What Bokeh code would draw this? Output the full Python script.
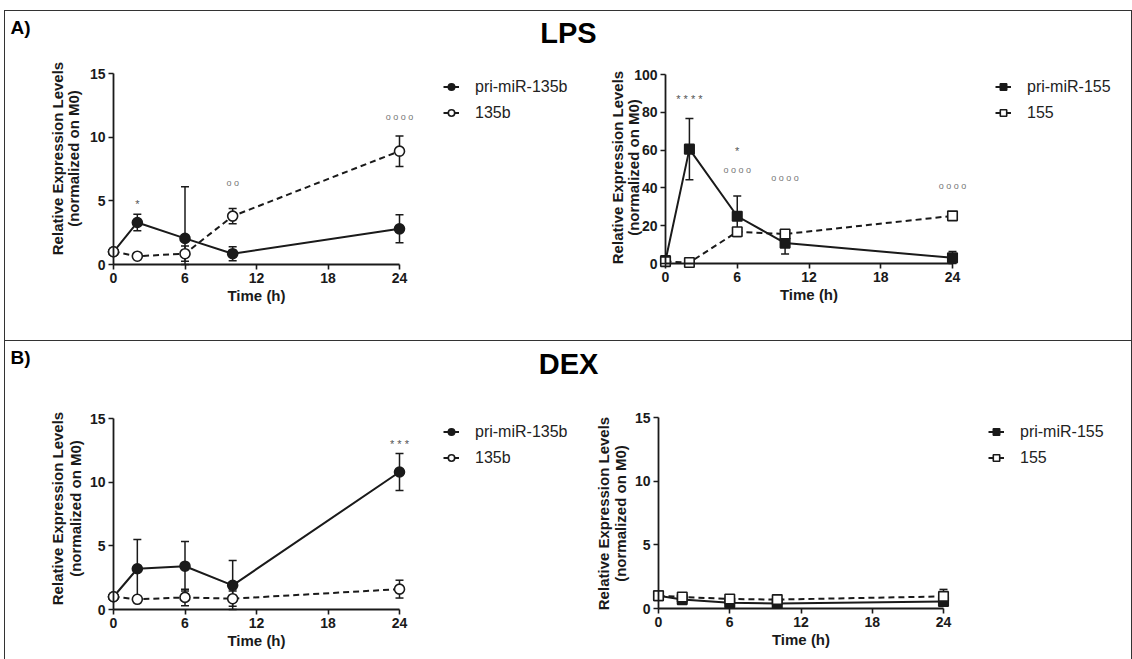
import numpy as np
from bokeh.plotting import figure
from bokeh.models import (ColumnDataSource, Whisker, TeeHead, Legend, LegendItem,
                          Range1d, Label, Spacer, FixedTicker)
from bokeh.layouts import column, row
from bokeh.embed import file_html
from bokeh.resources import INLINE
from bokeh.core.properties import value

# ---------------- data ----------------
time_h = [0, 2, 6, 10, 24]
x_ticks = [0, 6, 12, 18, 24]
y_ticks_15 = [0, 5, 10, 15]
y_ticks_100 = [0, 20, 40, 60, 80, 100]

# LPS
lps_pri135b = [1.0, 3.3, 2.05, 0.85, 2.8]
lps_pri135b_sd = [0.1, 0.65, 4.05, 0.55, 1.1]
lps_135b = [1.0, 0.65, 0.85, 3.8, 8.9]
lps_135b_sd = [0.05, 0.1, 0.6, 0.6, 1.2]
lps_pri155 = [1.5, 60.5, 25.0, 10.8, 3.0]
lps_pri155_sd = [1.0, 16.2, 10.7, 5.8, 3.3]
lps_155 = [1.0, 0.5, 16.8, 15.6, 25.2]
lps_155_sd = [0.3, 0.5, 1.5, 1.5, 1.2]

# DEX
dex_pri135b = [1.0, 3.2, 3.4, 1.9, 10.8]
dex_pri135b_sd = [0.05, 2.3, 1.95, 1.95, 1.45]
dex_135b = [1.0, 0.8, 0.95, 0.85, 1.6]
dex_135b_sd = [0.05, 0.15, 0.65, 0.6, 0.7]
dex_pri155 = [1.0, 0.7, 0.45, 0.4, 0.55]
dex_pri155_sd = [0.1, 0.3, 0.2, 0.2, 0.3]
dex_155 = [1.0, 0.9, 0.75, 0.7, 0.95]
dex_155_sd = [0.1, 0.2, 0.2, 0.15, 0.55]

# significance marks
lps135_ann_x = [2, 10, 24]
lps135_ann_y = [5.0, 6.4, 11.6]
lps135_ann_t = ["*", "o o", "o o o o"]
lps155_ann_x = [2, 6, 6, 10, 24]
lps155_ann_y = [88.5, 61.0, 49.7, 45.5, 41.0]
lps155_ann_t = ["* * * *", "*", "o o o o", "o o o o", "o o o o"]
dex135_ann_x = [24]
dex135_ann_y = [13.2]
dex135_ann_t = ["* * *"]

y_label_1 = "Relative Expression Levels"
y_label_2 = "(normalized on M0)"
x_label = "Time (h)"

FONT = "Liberation Sans"
INK = "#1a1a1a"


def panel(fw, fh, ax_x0, ax_x24, ax_y0, ax_ytop, ymax, yticks, series, marker,
          legend_off, ann, ylab):
    # frame covers the whole canvas; axes are pinned at x=0 / y=0
    upx = 24.0 / (ax_x24 - ax_x0)
    upy = ymax / float(ax_y0 - ax_ytop)
    p = figure(width=fw, height=fh,
               x_range=Range1d(-ax_x0 * upx, 24 + (fw - ax_x24) * upx),
               y_range=Range1d(-(fh - ax_y0) * upy, ymax + ax_ytop * upy),
               output_backend="svg", toolbar_location=None, min_border=0)
    p.grid.visible = False
    p.outline_line_color = None
    p.background_fill_color = "white"
    p.border_fill_color = "white"

    p.xaxis.fixed_location = 0
    p.yaxis.fixed_location = 0
    p.xaxis.bounds = (0, 24)
    p.yaxis.bounds = (0, ymax)
    p.xaxis.ticker = FixedTicker(ticks=x_ticks)
    p.yaxis.ticker = FixedTicker(ticks=yticks)
    for ax in (p.xaxis[0], p.yaxis[0]):
        ax.axis_line_width = 1.8
        ax.axis_line_color = INK
        ax.major_tick_line_width = 1.6
        ax.major_tick_line_color = INK
        ax.major_tick_out = 5
        ax.major_tick_in = 0
        ax.minor_tick_line_color = None
        ax.major_label_text_font = FONT
        ax.major_label_text_font_style = "bold"
        ax.major_label_text_font_size = "14px"
        ax.major_label_text_color = INK
        ax.axis_label_text_font = FONT
        ax.axis_label_text_font_style = "bold"
        ax.axis_label_text_color = INK
    p.xaxis.axis_label = x_label
    p.xaxis.axis_label_text_font_size = "15px"
    p.xaxis.major_label_standoff = 3
    p.xaxis.axis_label_standoff = 1
    p.yaxis.major_label_standoff = 3

    # two-line rotated y label
    l1x, l2x, cy = ylab
    yc = (ax_y0 - cy) * upy
    for txt, px in ((y_label_1, l1x), (y_label_2, l2x)):
        p.add_layout(Label(x=(px - ax_x0) * upx, y=yc, text=txt, angle=np.pi / 2,
                           text_font=FONT, text_font_style="bold", text_font_size="15px",
                           text_align="center", text_baseline="middle", text_color=INK))

    items = []
    for (label, mean, sd, filled, dash) in series:
        mean = np.array(mean, dtype=float)
        sd = np.array(sd, dtype=float)
        src = ColumnDataSource(dict(x=time_h, y=mean,
                                    upper=mean + sd,
                                    lower=np.maximum(mean - sd, 0.0)))
        wh = Whisker(base="x", upper="upper", lower="lower", source=src,
                     line_color=INK, line_width=1.5,
                     upper_head=TeeHead(size=8, line_color=INK, line_width=1.5),
                     lower_head=TeeHead(size=8, line_color=INK, line_width=1.5))
        p.add_layout(wh)
        lr = p.line("x", "y", source=src, line_color=INK, line_width=2,
                    line_dash=dash)
        sr = p.scatter("x", "y", source=src, marker=marker,
                       size=10 if marker == "circle" else 9.5,
                       fill_color=INK if filled else "white",
                       line_color=INK, line_width=1.6)
        items.append(LegendItem(label=label, renderers=[lr, sr]))

    leg = Legend(items=items, location=legend_off, padding=0, margin=0,
                 spacing=3, glyph_width=16, glyph_height=23, label_height=23,
                 label_standoff=16, border_line_color=None,
                 background_fill_alpha=0,
                 label_text_font=FONT, label_text_font_size="16px",
                 label_text_color="#222222")
    p.add_layout(leg)

    ax_, ay_, at_ = ann
    if ax_:
        stars = [i for i, t in enumerate(at_) if "*" in t]
        circs = [i for i, t in enumerate(at_) if "*" not in t]
        if stars:
            p.text(x=[ax_[i] for i in stars], y=[ay_[i] for i in stars],
                   text=[at_[i] for i in stars], text_align="center",
                   text_baseline="middle", y_offset=3,
                   text_font=value(FONT), text_font_size="11px", text_color="#555555")
        if circs:
            p.text(x=[ax_[i] for i in circs], y=[ay_[i] for i in circs],
                   text=[at_[i] for i in circs], text_align="center",
                   text_baseline="middle", y_offset=0,
                   text_font=value(FONT), text_font_size="9px", text_color="#777777")
    return p


def header(w, h, tag, title, tag_y, title_y):
    p = figure(width=w, height=h, x_range=Range1d(0, w), y_range=Range1d(0, h),
               output_backend="svg", toolbar_location=None,
               x_axis_type=None, y_axis_type=None, min_border=0)
    p.grid.visible = False
    p.outline_line_color = None
    p.add_layout(Label(x=5, y=tag_y, text=tag, text_font=FONT, text_font_style="bold",
                       text_font_size="19px", text_baseline="middle", text_color="black"))
    p.add_layout(Label(x=563, y=title_y, text=title, text_font=FONT,
                       text_font_style="bold", text_font_size="29px",
                       text_align="center", text_baseline="middle", text_color="black"))
    return p


# ---------------- panels ----------------
LW, RW = 580, 546
tl = panel(LW, 285, 108, 394, 209, 18, 15, y_ticks_15,
           [("pri-miR-135b", lps_pri135b, lps_pri135b_sd, True, "solid"),
            ("135b", lps_135b, lps_135b_sd, False, "6 4")],
           "circle", (438, 216), (lps135_ann_x, lps135_ann_y, lps135_ann_t),
           (52, 68, 103))
tr = panel(RW, 285, 80, 367, 208, 19, 100, y_ticks_100,
           [("pri-miR-155", lps_pri155, lps_pri155_sd, True, "solid"),
            ("155", lps_155, lps_155_sd, False, "6 4")],
           "square", (410, 216), (lps155_ann_x, lps155_ann_y, lps155_ann_t),
           (32, 48, 112))
bl = panel(LW, 274, 108, 394, 224, 33, 15, y_ticks_15,
           [("pri-miR-135b", dex_pri135b, dex_pri135b_sd, True, "solid"),
            ("135b", dex_135b, dex_135b_sd, False, "6 4")],
           "circle", (438, 190), (dex135_ann_x, dex135_ann_y, dex135_ann_t),
           (52, 70, 123))
br = panel(RW, 274, 73, 358, 223, 32, 15, y_ticks_15,
           [("pri-miR-155", dex_pri155, dex_pri155_sd, True, "solid"),
            ("155", dex_155, dex_155_sd, False, "6 4")],
           "square", (403, 190), ([], [], []),
           (18, 35, 128))

hdr_top = header(1126, 44, "A)", "LPS", 28, 23)
hdr_bot = header(1126, 44, "B)", "DEX", 28, 22)

top_sec = column(hdr_top, row(tl, tr, spacing=0), spacing=0,
                 styles={"border": "1px solid #333333"})
bot_sec = column(hdr_bot, row(bl, br, spacing=0), spacing=0,
                 styles={"border-left": "1px solid #333333",
                         "border-right": "1px solid #333333"})
root = column(Spacer(height=10, width=10),
              row(Spacer(width=4, height=10), column(top_sec, bot_sec, spacing=0), spacing=0),
              spacing=0)

open("out.html", "w").write(file_html(root, INLINE))
